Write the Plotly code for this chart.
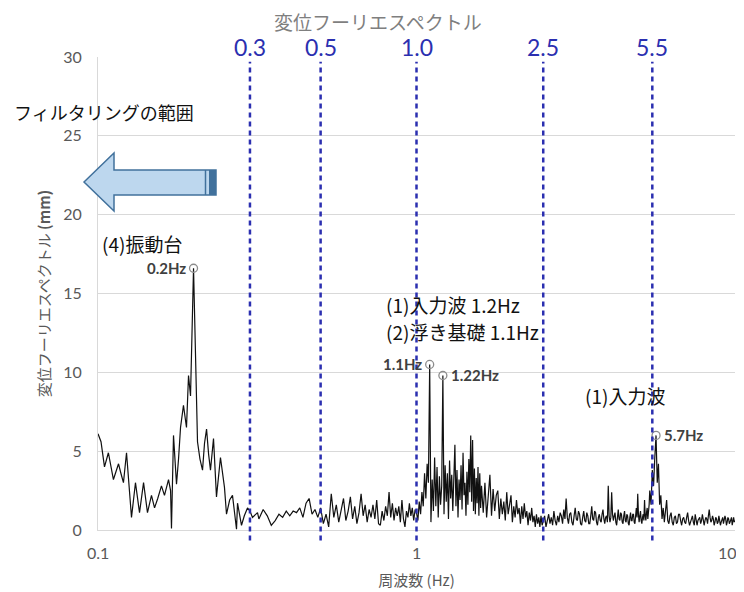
import numpy as np
import plotly.graph_objects as go

# ---------------- data ----------------
freq_a = [0.1000, 0.1022, 0.1048, 0.1078, 0.1118, 0.1160, 0.1180, 0.1202, 0.1229, 0.1274,
          0.1311, 0.1350, 0.1390, 0.1430, 0.1472, 0.1505, 0.1540, 0.1582, 0.1617, 0.1665,
          0.1690, 0.1701, 0.1726, 0.1764, 0.1790, 0.1816, 0.1855, 0.1880, 0.1896, 0.1924,
          0.1952, 0.1995, 0.2024, 0.2053, 0.2090, 0.2129, 0.2160, 0.2192, 0.2225, 0.2255,
          0.2305, 0.2355, 0.2424, 0.2495, 0.2532, 0.2590, 0.2644, 0.2722, 0.2742, 0.2822,
          0.2880, 0.2947, 0.3000, 0.3055, 0.3168]
amp_a = [6.1, 5.6, 4.0, 4.9, 3.2, 4.2, 3.6, 3.0, 4.9, 0.8,
         3.0, 1.1, 3.0, 1.1, 2.2, 1.4, 2.0, 2.8, 2.2, 3.2,
         2.5, 0.1, 6.0, 2.9, 4.5, 6.5, 7.9, 7.2, 6.5, 9.8,
         8.5, 16.6, 10.5, 5.6, 4.5, 3.8, 5.5, 6.4, 4.8, 3.8,
         5.8, 2.1, 4.6, 2.7, 1.0, 1.9, 2.2, 0.05, 1.7, 0.3,
         0.9, 1.4, 1.2, 0.8, 1.1]

freq_b = [0.32, 0.33, 0.34, 0.35, 0.36, 0.37, 0.38, 0.39, 0.40, 0.41,
          0.42, 0.43, 0.44, 0.45, 0.46, 0.47, 0.48, 0.49, 0.50, 0.51,
          0.52, 0.53, 0.54, 0.55, 0.56, 0.57, 0.58, 0.59, 0.60, 0.61,
          0.62, 0.63, 0.64, 0.65, 0.66, 0.67, 0.68, 0.69, 0.70, 0.71,
          0.72, 0.73, 0.74, 0.75, 0.76, 0.77, 0.78, 0.79, 0.80, 0.81,
          0.82, 0.83, 0.84, 0.85, 0.86, 0.87, 0.88, 0.89, 0.90, 0.91,
          0.92, 0.93, 0.94, 0.95, 0.96, 0.97, 0.98, 0.99]
amp_b = [0.7, 1.3, 0.9, 0.3, 0.6, 1.0, 0.8, 1.2, 0.9, 1.2,
         1.1, 1.4, 0.8, 1.7, 2.0, 1.0, 1.3, 0.8, 1.4, 0.4,
         1.0, 0.2, 2.3, 0.8, 1.6, 0.5, 1.3, 2.0, 0.6, 1.2,
         2.1, 0.7, 1.5, 0.4, 1.1, 2.3, 0.9, 1.6, 0.5, 1.3,
         0.8, 1.6, 0.7, 1.9, 0.4, 0.3, 1.2, 0.6, 1.5, 0.9,
         2.4, 0.8, 1.7, 0.6, 1.4, 0.9, 1.5, 0.5, 1.9, 0.7,
         0.2, 1.2, 0.8, 1.7, 0.9, 1.4, 0.6, 1.3]

freq_c = [1.00, 1.01, 1.02, 1.03, 1.04, 1.05, 1.06, 1.07, 1.08, 1.09,
          1.10, 1.11, 1.12, 1.13, 1.14, 1.15, 1.16, 1.17, 1.18, 1.19,
          1.20, 1.21, 1.22, 1.23, 1.24, 1.25, 1.26, 1.27, 1.28, 1.29,
          1.30, 1.31, 1.32, 1.33, 1.34, 1.35, 1.36, 1.37, 1.38, 1.39,
          1.40, 1.41, 1.42, 1.43, 1.44, 1.45, 1.46, 1.47, 1.48, 1.49,
          1.50, 1.51, 1.52, 1.53, 1.54, 1.55, 1.56, 1.57, 1.58, 1.59,
          1.60, 1.62, 1.64, 1.66, 1.68, 1.70, 1.72, 1.74, 1.76, 1.78,
          1.80, 1.82, 1.84, 1.86, 1.88, 1.90, 1.92, 1.94, 1.96, 1.98,
          2.00, 2.02, 2.04, 2.06, 2.08, 2.10, 2.12, 2.14, 2.16, 2.18,
          2.20, 2.22, 2.24, 2.26, 2.28, 2.30, 2.32, 2.34, 2.36, 2.38,
          2.40, 2.42, 2.44, 2.46, 2.48]
amp_c = [1.1, 0.6, 1.8, 1.0, 2.4, 1.5, 3.6, 2.0, 4.2, 3.0,
         10.5, 0.5, 3.2, 1.2, 4.6, 1.5, 4.0, 0.8, 3.4, 1.6,
         2.8, 9.8, 1.0, 4.1, 1.8, 3.6, 0.7, 4.4, 2.0, 3.5,
         1.2, 4.0, 5.4, 1.5, 3.8, 0.8, 3.2, 1.9, 4.1, 1.3,
         4.9, 2.2, 3.0, 0.9, 3.7, 1.6, 4.5, 2.4, 6.0, 1.8,
         5.7, 1.2, 3.9, 1.0, 3.3, 1.7, 4.0, 0.9, 3.6, 1.4,
         2.8, 1.1, 3.0, 0.8, 2.4, 3.5, 0.9, 2.6, 1.2, 2.2,
         2.5, 0.7, 2.0, 1.0, 1.8, 0.6, 2.4, 1.0, 1.6, 2.2,
         0.5, 1.5, 0.8, 1.9, 1.0, 1.4, 0.4, 1.5, 0.7, 1.7,
         0.8, 1.2, 0.3, 1.1, 0.6, 1.4, 0.5, 0.9, 0.2, 1.0,
         0.4, 0.8, 0.2, 0.9, 0.3]

freq_d = [2.500, 2.525, 2.550, 2.575, 2.600, 2.625, 2.650, 2.675, 2.700, 2.725,
          2.750, 2.775, 2.800, 2.825, 2.850, 2.875, 2.900, 2.925, 2.950, 2.975,
          3.000, 3.025, 3.050, 3.075, 3.100, 3.125, 3.150, 3.175, 3.200, 3.225,
          3.250, 3.275, 3.300, 3.325, 3.350, 3.375, 3.400, 3.425, 3.450, 3.475,
          3.500, 3.525, 3.550, 3.575, 3.600, 3.625, 3.650, 3.675, 3.700, 3.725,
          3.750, 3.775, 3.800, 3.825, 3.850, 3.875, 3.900, 3.925, 3.950, 3.975,
          4.000, 4.025, 4.050, 4.075, 4.100, 4.125, 4.150, 4.175, 4.200, 4.225,
          4.250, 4.275, 4.300, 4.325, 4.350, 4.375, 4.400, 4.425, 4.450, 4.475,
          4.500, 4.525, 4.550, 4.575, 4.600, 4.625, 4.650, 4.675, 4.700, 4.725,
          4.750, 4.775, 4.800, 4.825, 4.850, 4.875, 4.900, 4.925, 4.950, 4.975,
          5.000, 5.025, 5.050, 5.075, 5.100, 5.125, 5.150, 5.175, 5.200, 5.225,
          5.250, 5.275, 5.300, 5.325, 5.350, 5.375, 5.400,
          5.45, 5.50, 5.55, 5.60, 5.65, 5.70, 5.75, 5.80, 5.85, 5.90, 5.95, 6.00,
          6.05, 6.10, 6.15, 6.20, 6.25, 6.30, 6.35, 6.40, 6.45, 6.50,
          6.55, 6.60, 6.65, 6.70, 6.75, 6.80, 6.85, 6.90, 6.95, 7.00,
          7.05, 7.10, 7.15, 7.20, 7.25, 7.30, 7.35, 7.40, 7.45, 7.50,
          7.55, 7.60, 7.65, 7.70, 7.75, 7.80, 7.85, 7.90, 7.95, 8.00,
          8.05, 8.10, 8.15, 8.20, 8.25, 8.30, 8.35, 8.40, 8.45, 8.50,
          8.55, 8.60, 8.65, 8.70, 8.75, 8.80, 8.85, 8.90, 8.95, 9.00,
          9.05, 9.10, 9.15, 9.20, 9.25, 9.30, 9.35, 9.40, 9.45, 9.50,
          9.55, 9.60, 9.65, 9.70, 9.75, 9.80, 9.85, 9.90, 9.95, 10.00]
amp_d = [0.6, 0.9, 0.2, 0.7, 1.0, 0.4, 0.8, 0.3, 1.2, 0.6,
         0.3, 0.9, 0.5, 1.1, 0.9, 0.4, 1.3, 0.7, 2.0, 0.8,
         0.4, 1.0, 1.1, 0.5, 0.3, 0.9, 1.4, 0.7, 0.6, 1.2,
         1.0, 0.4, 0.3, 0.8, 1.2, 0.6, 0.5, 1.1, 0.9, 0.4,
         0.4, 0.9, 1.5, 0.7, 0.6, 1.2, 1.1, 0.5, 0.3, 0.8,
         1.0, 0.6, 0.5, 1.0, 1.3, 0.7, 0.4, 0.8, 0.9, 0.5,
         2.8, 0.9, 0.5, 0.8, 2.4, 1.0, 0.6, 0.9, 1.1, 0.5,
         0.3, 0.8, 1.3, 0.7, 0.6, 1.1, 1.0, 0.5, 0.4, 0.9,
         1.2, 0.6, 0.5, 1.0, 0.9, 0.4, 0.3, 0.8, 1.1, 0.6,
         0.6, 1.0, 1.0, 0.5, 0.4, 0.9, 1.4, 0.8, 2.3, 1.0,
         0.5, 0.9, 1.2, 0.6, 0.4, 0.8, 1.0, 0.6, 1.9, 0.9,
         0.6, 1.1, 1.4, 0.7, 1.0, 1.6, 2.5,
         1.6, 3.8, 2.8, 4.6, 6.0, 3.0, 4.2, 1.6, 2.2, 0.7, 1.4, 0.5,
         1.1, 1.9, 0.6, 0.4, 0.9, 1.1, 0.5, 0.3, 0.8, 0.9,
         0.4, 0.5, 1.0, 1.0, 0.6, 0.3, 0.7, 0.8, 0.5, 0.4,
         0.8, 1.1, 0.6, 0.3, 0.5, 0.8, 0.9, 0.5, 0.3, 1.0,
         0.7, 0.3, 0.6, 0.7, 0.8, 0.4, 0.6, 1.0, 0.5, 0.3,
         0.6, 0.8, 0.7, 0.4, 0.9, 1.3, 0.8, 0.5, 0.6, 0.9,
         0.7, 0.3, 0.5, 0.8, 0.7, 0.4, 0.5, 0.9, 0.6, 0.3,
         0.5, 0.7, 0.8, 0.4, 0.6, 0.9, 0.7, 0.3, 0.5, 0.8,
         0.7, 0.4, 0.5, 0.7, 0.8, 0.3, 0.6, 0.8, 0.5, 0.6]

peak_freqs = [0.1995, 1.10, 1.21, 5.65]
peak_amps = [16.6, 10.5, 9.8, 6.0]
peak_labels = ["0.2Hz", "1.1Hz", "1.22Hz", "5.7Hz"]
peak_sides = ["left", "left", "right", "right"]

cutoffs = [0.3, 0.5, 1.0, 2.5, 5.5]
cutoff_labels = ["0.3", "0.5", "1.0", "2.5", "5.5"]

x_ticks = [0.1, 1, 10]
x_ticktext = ["0.1", "1", "10"]
y_ticks = [0, 5, 10, 15, 20, 25, 30]

freq = freq_a + freq_b + freq_c + freq_d
amp = amp_a + amp_b + amp_c + amp_d

# ---------------- figure ----------------
JP = "Noto Sans CJK JP"
GRAY = "#595959"
BLUE = "#2b2fb0"

# the page body adds an 8px offset; margins compensate so the plot area
# lands at x 98..735, y 57..530 in the window
OFF = 8
PL, PR, PT, PB = 98, 735, 57, 530

fig = go.Figure()
fig.add_trace(go.Scatter(x=freq, y=amp, mode="lines",
                         line=dict(color="#111111", width=1.2),
                         showlegend=False, hoverinfo="skip"))
fig.add_trace(go.Scatter(x=peak_freqs, y=peak_amps, mode="markers",
                         marker=dict(symbol="circle-open", size=8,
                                     color="#8c8c8c", line=dict(width=1.3)),
                         showlegend=False, hoverinfo="skip", cliponaxis=False))


def px(x):
    return (x - PL) / float(PR - PL)


def py(y):
    return (PB - y) / float(PB - PT)


# dashed cutoff lines and labels
for c, lab in zip(cutoffs, cutoff_labels):
    fig.add_shape(type="line", xref="x", yref="paper", x0=c, x1=c,
                  y0=-0.022, y1=0.99,
                  line=dict(color=BLUE, width=2.5, dash="5px,4px"))
    fig.add_annotation(x=np.log10(c), xref="x", y=py(47), yref="paper",
                       text=lab, showarrow=False,
                       font=dict(family="Lato", size=23, color=BLUE),
                       xanchor="center", yanchor="middle")

# peak labels
for f, a, lab, side in zip(peak_freqs, peak_amps, peak_labels, peak_sides):
    fig.add_annotation(x=np.log10(f), y=a, xref="x", yref="y", text="<b>" + lab + "</b>",
                       showarrow=False,
                       font=dict(family="Lato", size=15, color="#404040"),
                       xanchor="right" if side == "left" else "left",
                       xshift=-6 if side == "left" else 6, yanchor="middle")

# x tick labels (drawn as annotations so that "10" stays inside the window)
tick_shift = [0, 0, -8]
for tv, tt, sh in zip(x_ticks, x_ticktext, tick_shift):
    fig.add_annotation(x=np.log10(tv), xref="x", y=py(552), yref="paper",
                       text=tt, showarrow=False, xanchor="center", yanchor="middle",
                       xshift=sh, font=dict(family="Lato", size=16, color=GRAY))

# text annotations (paper coords)
texts = [
    ("フィルタリングの範囲", 12, 112, 18),
    ("(4)振動台", 100, 243, 19),
    ("(1)入力波 1.2Hz", 384, 304, 19),
    ("(2)浮き基礎 1.1Hz", 384, 331, 19),
    ("(1)入力波", 583, 395, 19),
]
for t, xp, yp, fs in texts:
    fig.add_annotation(x=px(xp), y=py(yp), xref="paper", yref="paper", text=t,
                       showarrow=False, xanchor="left", yanchor="middle",
                       font=dict(family=JP, size=fs, color="#111111"))

# big left arrow (paper coordinates)
path = "M {} {} L {} {} L {} {} L {} {} L {} {} L {} {} L {} {} Z".format(
    px(84), py(182), px(114), py(153), px(114), py(170), px(216), py(170),
    px(216), py(195), px(114), py(195), px(114), py(211))
fig.add_shape(type="path", xref="paper", yref="paper", path=path,
              fillcolor="#bdd7ee", line=dict(color="#41719c", width=1.5))
fig.add_shape(type="rect", xref="paper", yref="paper",
              x0=px(209), x1=px(216), y0=py(195), y1=py(170),
              fillcolor="#41719c", line=dict(width=0))
fig.add_shape(type="line", xref="paper", yref="paper",
              x0=px(205.5), x1=px(205.5), y0=py(195), y1=py(170),
              line=dict(color="#41719c", width=1.5))

# chart title
fig.add_annotation(x=px(378), xref="paper", y=py(21), yref="paper",
                   text="変位フーリエスペクトル", showarrow=False,
                   xanchor="center", yanchor="middle",
                   font=dict(family=JP, size=19, color="#7f7f7f"))

W, H = 744, 592
fig.update_layout(
    width=W, height=H,
    margin=dict(l=PL - OFF, r=W - PR + OFF, t=PT - OFF, b=H - PB + OFF, autoexpand=False),
    paper_bgcolor="white", plot_bgcolor="white",
    xaxis=dict(type="log", range=[-1, 1], tickvals=x_ticks, showticklabels=False,
               showgrid=False, showline=True, linecolor="#d9d9d9", linewidth=1,
               ticks="", zeroline=False, automargin=False,
               title=dict(text="周波数 (Hz)", standoff=45,
                          font=dict(family=JP, size=15, color=GRAY))),
    yaxis=dict(range=[0, 30], tickvals=y_ticks, showgrid=True, gridcolor="#d9d9d9",
               gridwidth=1, showline=True, linecolor="#d9d9d9", ticks="",
               zeroline=False, ticklabelstandoff=12, automargin=False,
               tickfont=dict(family="Lato", size=16, color=GRAY),
               title=dict(text="変位フーリエスペクトル <b>(mm)</b>", standoff=8,
                          font=dict(family=JP, size=15, color=GRAY))),
)

fig.write_html("out.html")
